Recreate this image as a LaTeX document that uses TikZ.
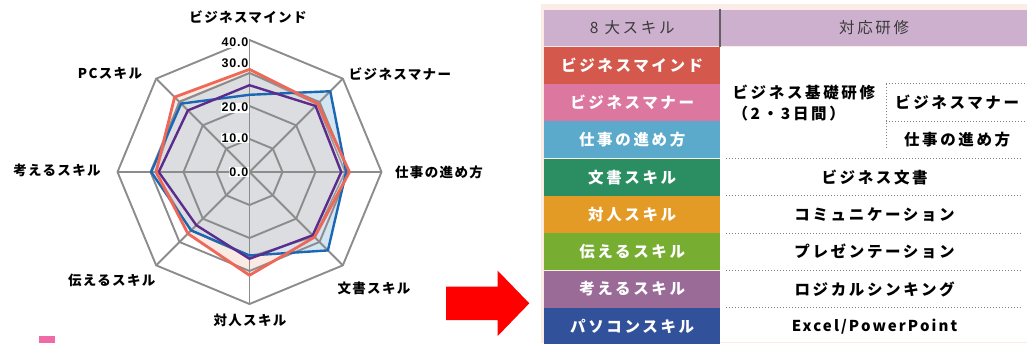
\documentclass[tikz,border=0pt]{standalone}
\usepackage{fontspec}
\usetikzlibrary{positioning}
\newfontfamily\jpfont[LetterSpace=10]{Noto Sans CJK JP}
\newfontfamily\jplatin[LetterSpace=14]{Noto Sans CJK JP}
\newfontfamily\jpwide[LetterSpace=17]{Noto Sans CJK JP}
\newfontfamily\numfont[LetterSpace=6]{Liberation Sans}
\definecolor{gridgray}{HTML}{8C8C8C}
\definecolor{grayline}{HTML}{9A9A9A}
\definecolor{grayfill}{HTML}{DCDDE0}
\definecolor{pinkfill}{HTML}{FBE9E3}
\definecolor{bluefill}{HTML}{D4E5F2}
\definecolor{redline}{HTML}{EE6757}
\definecolor{blueline}{HTML}{1C67B3}
\definecolor{purpleline}{HTML}{5C2C8D}
\definecolor{tablebg}{HTML}{FCECE7}
\definecolor{hdlav}{HTML}{CDB0CD}
\definecolor{hdtext}{HTML}{3A3A3A}
\definecolor{skred}{HTML}{D4584C}
\definecolor{skpink}{HTML}{DC789F}
\definecolor{skblue}{HTML}{5BAACB}
\definecolor{skgreen}{HTML}{2A8E62}
\definecolor{skorange}{HTML}{E49B26}
\definecolor{sklime}{HTML}{77AD31}
\definecolor{skpurple}{HTML}{9B6B98}
\definecolor{sknavy}{HTML}{31519B}
\definecolor{marker}{HTML}{F06BA5}
\begin{document}
\begin{tikzpicture}[x=1pt,y=-1pt,
    grid/.style={gridgray,line width=1.9pt,line join=round},
    series/.style={line width=2.4pt,line join=round},
    tick/.style={fill=white,inner sep=0.6pt,anchor=east,font=\numfont\bfseries\fontsize{12.5}{12.5}\selectfont},
    axislabel/.style={inner sep=0pt,font=\jpfont\bfseries\fontsize{13.5}{15}\selectfont},
    skill/.style={minimum width=176pt,minimum height=36.9pt,inner sep=0pt,text=white,font=\jpwide\bfseries\fontsize{15.5}{17}\selectfont},
    course/.style={minimum width=296pt,minimum height=36.9pt,inner sep=0pt,font=\jpwide\bfseries\fontsize{15.5}{17}\selectfont},
    sep/.style={gray,line width=1pt,dash pattern=on 1pt off 2pt}]
    \useasboundingbox (0,0) rectangle (1027,343);

    % radar chart
    \begin{scope}[shift={(249.5,172)},x=3.3pt,y=-3.3pt]
        \foreach \v [count=\k from 0] in {31.1,29.3,30.3,27.9,31.3,26.4,28.3,32.1}
            \coordinate (red\k) at (-90+45*\k:\v);
        \foreach \v [count=\k from 0] in {23.4,34.6,29.3,33.6,25.3,25.0,29.8,29.3}
            \coordinate (blue\k) at (-90+45*\k:\v);
        \foreach \v [count=\k from 0] in {26.3,28.3,27.8,27.1,26.3,22.8,27.5,26.4}
            \coordinate (purple\k) at (-90+45*\k:\v);
        \foreach \v [count=\k from 0] in {30.0,29.0,29.0,27.8,25.6,25.2,28.5,30.2}
            \coordinate (gray\k) at (-90+45*\k:\v);
        \fill[pinkfill] (red0) \foreach \k in {1,...,7}{ -- (red\k)} -- cycle;
        \fill[bluefill] (blue0) \foreach \k in {1,...,7}{ -- (blue\k)} -- cycle;
        \filldraw[grayfill,draw=grayline,line width=1.5pt] (gray0) \foreach \k in {1,...,7}{ -- (gray\k)} -- cycle;
        \foreach \r in {10,20,30,40}
            \draw[grid] (-90:\r) \foreach \k in {1,...,7}{ -- (-90+45*\k:\r)} -- cycle;
        \foreach \k in {0,...,7}
            \draw[grid] (0,0) -- (-90+45*\k:40);
        \draw[series,blueline] (blue0) \foreach \k in {1,...,7}{ -- (blue\k)} -- cycle;
        \draw[series,purpleline] (purple0) \foreach \k in {1,...,7}{ -- (purple\k)} -- cycle;
        \draw[series,redline,line width=2.8pt] (red0) \foreach \k in {1,...,7}{ -- (red\k)} -- cycle;
        \node[tick] (t0) at (-0.15,0) {0.0};
        \node[tick] (t10) at (-0.15,-10.3) {10.0};
        \node[tick] (t20) at (-0.15,-19.5) {20.0};
        \node[tick] (t30) at (-0.15,-33) {30.0};
        \node[tick] (t40) at (-0.15,-39.2) {40.0};
    \end{scope}

    \node[axislabel] (mind) at (248,17) {ビジネスマインド};
    \node[axislabel] (manner) at (400,74) {ビジネスマナー};
    \node[axislabel] (work) at (439,172.7) {仕事の進め方};
    \node[axislabel] (doc) at (374,288) {文書スキル};
    \node[axislabel] (inter) at (250,320) {対人スキル};
    \node[axislabel] (tell) at (111.7,280.7) {伝えるスキル};
    \node[axislabel] (think) at (57,170) {考えるスキル};
    \node[axislabel] (pc) at (110,73) {PCスキル};
    \fill[marker] (39.3,336) rectangle (55,343);

    % arrow
    \fill[red] (446,286.7) -- (497.7,286.7) -- (497.7,270.7) -- (529.3,303.3)
        -- (497.7,336) -- (497.7,320) -- (446,320) -- cycle;

    % table
    \fill[tablebg] (540.7,4) rectangle (1027,343);
    \node[skill,fill=hdlav,text=hdtext,anchor=north west,font=\jpwide\fontsize{15.5}{17}\selectfont] (hd1) at (544,9.3) {8 大スキル};
    \node[skill,fill=hdlav,text=hdtext,minimum width=307pt,font=\jpwide\fontsize{15.5}{17}\selectfont,right=0pt of hd1] (hd2) {対応研修};
    \draw[hdtext!80,line width=2pt] (hd1.north east) -- (hd1.south east);
    \node[skill,fill=skred,below=0pt of hd1] (sk1) {ビジネスマインド};
    \node[skill,fill=skpink,below=0pt of sk1] (sk2) {ビジネスマナー};
    \node[skill,fill=skblue,below=0pt of sk2] (sk3) {仕事の進め方};
    \node[skill,fill=skgreen,below=0pt of sk3] (sk4) {文書スキル};
    \node[skill,fill=skorange,below=0pt of sk4] (sk5) {対人スキル};
    \node[skill,fill=sklime,below=0pt of sk5] (sk6) {伝えるスキル};
    \node[skill,fill=skpurple,below=0pt of sk6] (sk7) {考えるスキル};
    \node[skill,fill=sknavy,below=0pt of sk7] (sk8) {パソコンスキル};
    \fill[white] (sk1.north east) rectangle (1027,341.7);

    \node[align=left,anchor=west,inner sep=0pt,font=\jpwide\bfseries\fontsize{15.5}{21}\selectfont] (basic) at ([xshift=12pt]sk2.east) {ビジネス基礎研修\\（2・3日間）};
    \node[course,minimum width=141pt,right=166pt of sk2] (sub2) {ビジネスマナー};
    \node[course,minimum width=141pt,right=166pt of sk3] (sub3) {仕事の進め方};
    \draw[sep] (sub2.north west) -- (sub2.north east);
    \draw[sep] (sub2.south west) -- (sub2.south east);
    \draw[sep] (sub2.north west) -- ([yshift=9pt]sub3.south west);

    \node[course,right=6pt of sk4] (tr4) {ビジネス文書};
    \node[course,right=6pt of sk5] (tr5) {コミュニケーション};
    \node[course,right=6pt of sk6] (tr6) {プレゼンテーション};
    \node[course,right=6pt of sk7] (tr7) {ロジカルシンキング};
    \node[course,right=6pt of sk8,font=\jplatin\bfseries\fontsize{15}{17}\selectfont] (tr8) {Excel/PowerPoint};
    \draw[sep] (tr4.north west) -- (tr4.north east);
    \foreach \r in {4,...,7}
        \draw[sep] (tr\r.south west) -- (tr\r.south east);
\end{tikzpicture}
\end{document}
